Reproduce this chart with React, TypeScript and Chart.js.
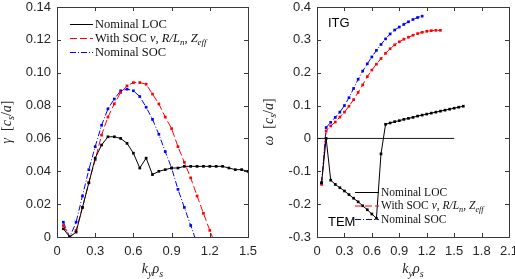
import React, { useEffect, useRef } from 'react';
import { Chart, registerables } from 'chart.js';
Chart.register(...registerables);

// ---------- Left panel: growth rate gamma ----------
const kyLOC = [0.05, 0.1, 0.15, 0.2, 0.25, 0.3, 0.35, 0.4, 0.45, 0.5, 0.55, 0.6, 0.65, 0.7, 0.75, 0.8, 0.85, 0.9, 0.95, 1.0, 1.05, 1.1, 1.15, 1.2, 1.25, 1.3, 1.35, 1.4, 1.45, 1.5];
const gammaLOC = [0.005, 0.0, 0.003, 0.018, 0.033, 0.048, 0.056, 0.061, 0.061, 0.060, 0.057, 0.051, 0.042, 0.048, 0.038, 0.040, 0.041, 0.042, 0.042, 0.043, 0.043, 0.043, 0.043, 0.043, 0.043, 0.043, 0.042, 0.041, 0.041, 0.040];

const kyWithSOC = [0.05, 0.1, 0.15, 0.2, 0.25, 0.3, 0.35, 0.4, 0.45, 0.5, 0.55, 0.6, 0.65, 0.7, 0.75, 0.8, 0.85, 0.9, 0.95, 1.0, 1.05, 1.1, 1.15, 1.2, 1.25];
const gammaWithSOC = [0.007, 0.0, 0.004, 0.018, 0.033, 0.047, 0.062, 0.073, 0.081, 0.088, 0.092, 0.094, 0.094, 0.093, 0.087, 0.081, 0.073, 0.066, 0.055, 0.0455, 0.036, 0.025, 0.0144, 0.004, -0.006];

const kyNomSOC = [0.05, 0.1, 0.15, 0.2, 0.25, 0.3, 0.35, 0.4, 0.45, 0.5, 0.55, 0.6, 0.65, 0.7, 0.75, 0.8, 0.85, 0.9, 0.95, 1.0, 1.05, 1.1];
const gammaNomSOC = [0.009, 0.0, 0.009, 0.025, 0.041, 0.055, 0.068, 0.078, 0.084, 0.089, 0.090, 0.089, 0.0855, 0.079, 0.0716, 0.0625, 0.052, 0.042, 0.029, 0.018, 0.007, -0.004];

// ---------- Right panel: real frequency omega ----------
const kyOmegaLOC = [0.05, 0.1, 0.15, 0.2, 0.25, 0.3, 0.35, 0.4, 0.45, 0.5, 0.55, 0.6, 0.65, 0.7, 0.75, 0.8, 0.85, 0.9, 0.95, 1.0, 1.05, 1.1, 1.15, 1.2, 1.25, 1.3, 1.35, 1.4, 1.45, 1.5, 1.55, 1.6];
const omegaLOC = [-0.135, 0.0, -0.127, -0.14, -0.15, -0.16, -0.171, -0.182, -0.193, -0.205, -0.217, -0.23, -0.243, -0.047, 0.043, 0.047, 0.051, 0.054, 0.058, 0.061, 0.064, 0.068, 0.071, 0.074, 0.077, 0.080, 0.083, 0.086, 0.089, 0.092, 0.095, 0.098];

const kyOmegaWithSOC = [0.05, 0.1, 0.15, 0.2, 0.25, 0.3, 0.35, 0.4, 0.45, 0.5, 0.55, 0.6, 0.65, 0.7, 0.75, 0.8, 0.85, 0.9, 0.95, 1.0, 1.05, 1.1, 1.15, 1.2, 1.25, 1.3, 1.35];
const omegaWithSOC = [-0.14, 0.023, 0.038, 0.05, 0.065, 0.08, 0.098, 0.118, 0.14, 0.163, 0.188, 0.208, 0.226, 0.243, 0.259, 0.273, 0.285, 0.294, 0.302, 0.308, 0.314, 0.319, 0.323, 0.326, 0.328, 0.329, 0.329];

const kyOmegaNomSOC = [0.05, 0.1, 0.15, 0.2, 0.25, 0.3, 0.35, 0.4, 0.45, 0.5, 0.55, 0.6, 0.65, 0.7, 0.75, 0.8, 0.85, 0.9, 0.95, 1.0, 1.05, 1.1, 1.15];
const omegaNomSOC = [-0.135, 0.033, 0.049, 0.064, 0.08, 0.100, 0.124, 0.152, 0.180, 0.205, 0.227, 0.248, 0.268, 0.286, 0.303, 0.318, 0.330, 0.339, 0.347, 0.355, 0.362, 0.368, 0.372];

const zeroLineX = [0, 1.5];
const zeroLineY = [0, 0];

// ---------- Labels ----------
type Seg = { t: string; i?: boolean; sub?: boolean };
const legendLOC: Seg[] = [{ t: 'Nominal LOC' }];
const legendWithSOC: Seg[] = [
  { t: 'With SOC ' }, { t: 'ν', i: true }, { t: ', ' }, { t: 'R/L', i: true }, { t: 'n', i: true, sub: true },
  { t: ', ' }, { t: 'Z', i: true }, { t: 'eff', i: true, sub: true },
];
const legendNomSOC: Seg[] = [{ t: 'Nominal SOC' }];
const xTitle: Seg[] = [{ t: 'k', i: true }, { t: 'y', i: true, sub: true }, { t: 'ρ', i: true }, { t: 's', i: true, sub: true }];
const yTitleGamma: Seg[] = [{ t: 'γ', i: true }, { t: '  [' }, { t: 'c', i: true }, { t: 's', i: true, sub: true }, { t: '/' }, { t: 'a', i: true }, { t: ']' }];
const yTitleOmega: Seg[] = [{ t: 'ω', i: true }, { t: '  [' }, { t: 'c', i: true }, { t: 's', i: true, sub: true }, { t: '/' }, { t: 'a', i: true }, { t: ']' }];
const labelITG = 'ITG';
const labelTEM = 'TEM';

const COL_LOC = '#000000';
const COL_WITH = '#ff0000';
const COL_NOM = '#0000ff';
const DASH_WITH = [7, 3];
const DASH_NOM = [6, 2, 1, 2];

const SERIF = '"Liberation Serif", "Times New Roman", serif';
const SANS = '"Liberation Sans", Arial, sans-serif';

function pts(xs: number[], ys: number[]) {
  return xs.map((x, i) => ({ x, y: ys[i] }));
}

function segFont(s: Seg, size: number) {
  const sz = s.sub ? size * 0.72 : size;
  return `${s.i ? 'italic ' : ''}${sz}px ${SERIF}`;
}

function richWidth(ctx: CanvasRenderingContext2D, segs: Seg[], size: number) {
  let w = 0;
  for (const s of segs) {
    ctx.font = segFont(s, size);
    w += ctx.measureText(s.t).width;
  }
  return w;
}

function drawRich(ctx: CanvasRenderingContext2D, segs: Seg[], x: number, y: number, size: number, align: 'left' | 'center') {
  let cx = align === 'center' ? x - richWidth(ctx, segs, size) / 2 : x;
  ctx.textAlign = 'left';
  ctx.textBaseline = 'alphabetic';
  for (const s of segs) {
    ctx.font = segFont(s, size);
    ctx.fillText(s.t, cx, y + (s.sub ? size * 0.25 : 0));
    cx += ctx.measureText(s.t).width;
  }
}

type LegendItem = { segs: Seg[]; color: string; dash: number[] };

function makeDecor(cfg: {
  yTitle: Seg[];
  yTitleX: number;
  legend: LegendItem[];
  legX: number; legY: number; legStep: number; legLen: number; legFont: number;
  texts: { t: string; x: number; y: number }[];
}) {
  return {
    id: 'decor',
    beforeDatasetsDraw(chart: any) {
      const { ctx, chartArea: a } = chart;
      const xs = chart.scales.x, ys = chart.scales.y;
      ctx.save();
      ctx.strokeStyle = '#3a3a3a';
      ctx.lineWidth = 1;
      ctx.beginPath();
      const L = 4;
      for (const t of xs.ticks) {
        const px = Math.round(xs.getPixelForValue(t.value)) + 0.5;
        ctx.moveTo(px, a.bottom); ctx.lineTo(px, a.bottom - L);
        ctx.moveTo(px, a.top); ctx.lineTo(px, a.top + L);
      }
      for (const t of ys.ticks) {
        const py = Math.round(ys.getPixelForValue(t.value)) + 0.5;
        ctx.moveTo(a.left, py); ctx.lineTo(a.left + L, py);
        ctx.moveTo(a.right, py); ctx.lineTo(a.right - L, py);
      }
      ctx.stroke();
      ctx.strokeRect(Math.round(a.left) + 0.5, Math.round(a.top) + 0.5, Math.round(a.right - a.left), Math.round(a.bottom - a.top));
      ctx.restore();
    },
    afterDraw(chart: any) {
      const { ctx, chartArea: a } = chart;
      ctx.save();
      ctx.fillStyle = '#222';
      // x title
      drawRich(ctx, xTitle, (a.left + a.right) / 2, 273, 14, 'center');
      // y title rotated
      ctx.save();
      ctx.translate(cfg.yTitleX, (a.top + a.bottom) / 2);
      ctx.rotate(-Math.PI / 2);
      drawRich(ctx, cfg.yTitle, 0, 4.5, 14, 'center');
      ctx.restore();
      // legend
      cfg.legend.forEach((it, k) => {
        const y = cfg.legY + k * cfg.legStep;
        ctx.save();
        ctx.strokeStyle = it.color;
        ctx.lineWidth = 1;
        ctx.setLineDash(it.dash);
        ctx.beginPath();
        ctx.moveTo(cfg.legX, y + 0.5);
        ctx.lineTo(cfg.legX + cfg.legLen, y + 0.5);
        ctx.stroke();
        ctx.restore();
        ctx.fillStyle = '#111';
        drawRich(ctx, it.segs, cfg.legX + cfg.legLen + 2, y + cfg.legFont * 0.33, cfg.legFont, 'left');
      });
      // annotations
      ctx.fillStyle = '#000';
      ctx.font = `13px ${SANS}`;
      ctx.textAlign = 'left';
      ctx.textBaseline = 'middle';
      for (const t of cfg.texts) ctx.fillText(t.t, t.x, t.y);
      ctx.restore();
    },
  };
}

function lineDs(data: { x: number; y: number }[], color: string, dash: number[], marker = true) {
  return {
    data,
    borderColor: color,
    backgroundColor: color,
    borderWidth: 1,
    borderDash: dash,
    pointStyle: 'rect',
    pointRadius: marker ? 1.9 : 0,
    pointBorderWidth: 0,
    pointBackgroundColor: color,
    tension: 0,
    fill: false,
  };
}

const tickFont = { family: SANS, size: 13 };

function axisOpts(min: number, max: number, step: number, isX: boolean, size: number) {
  return {
    type: 'linear',
    min, max,
    ticks: { stepSize: step, font: tickFont, color: '#262626', padding: isX ? 7 : 6, maxRotation: 0, autoSkip: false },
    grid: { display: false, drawTicks: false },
    border: { display: false },
    afterFit: (s: any) => {
      if (isX) { s.height = size; s.paddingLeft = 0; s.paddingRight = 0; }
      else { s.width = size; s.paddingTop = 0; s.paddingBottom = 0; }
    },
  };
}

export default function App() {
  const leftRef = useRef<HTMLCanvasElement>(null);
  const rightRef = useRef<HTMLCanvasElement>(null);

  useEffect(() => {
    const legendItems: LegendItem[] = [
      { segs: legendLOC, color: COL_LOC, dash: [] },
      { segs: legendWithSOC, color: COL_WITH, dash: DASH_WITH },
      { segs: legendNomSOC, color: COL_NOM, dash: DASH_NOM },
    ];
    const left = new Chart(leftRef.current as HTMLCanvasElement, {
      type: 'line',
      data: {
        datasets: [
          lineDs(pts(kyLOC, gammaLOC), COL_LOC, []),
          lineDs(pts(kyWithSOC, gammaWithSOC), COL_WITH, DASH_WITH),
          lineDs(pts(kyNomSOC, gammaNomSOC), COL_NOM, DASH_NOM),
        ] as any,
      },
      options: {
        responsive: false,
        animation: false,
        devicePixelRatio: 1,
        layout: { padding: { left: 0, top: 7, right: 267, bottom: 0 } },
        plugins: { legend: { display: false }, tooltip: { enabled: false } },
        scales: {
          x: axisOpts(0, 1.5, 0.3, true, 42) as any,
          y: axisOpts(0, 0.14, 0.02, false, 57) as any,
        },
      },
      plugins: [makeDecor({
        yTitle: yTitleGamma, yTitleX: 6,
        legend: legendItems, legX: 70, legY: 24, legStep: 14, legLen: 23, legFont: 12.5,
        texts: [],
      })],
    });
    const right = new Chart(rightRef.current as HTMLCanvasElement, {
      type: 'line',
      data: {
        datasets: [
          lineDs(pts(zeroLineX, zeroLineY), '#1a1a1a', [], false),
          lineDs(pts(kyOmegaLOC, omegaLOC), COL_LOC, []),
          lineDs(pts(kyOmegaWithSOC, omegaWithSOC), COL_WITH, DASH_WITH),
          lineDs(pts(kyOmegaNomSOC, omegaNomSOC), COL_NOM, DASH_NOM),
        ] as any,
      },
      options: {
        responsive: false,
        animation: false,
        devicePixelRatio: 1,
        layout: { padding: { left: 0, top: 7, right: 6, bottom: 0 } },
        plugins: { legend: { display: false }, tooltip: { enabled: false } },
        scales: {
          x: axisOpts(0, 2.1, 0.3, true, 42) as any,
          y: axisOpts(-0.3, 0.4, 0.1, false, 317) as any,
        },
      },
      plugins: [makeDecor({
        yTitle: yTitleOmega, yTitleX: 268,
        legend: legendItems, legX: 355, legY: 192, legStep: 13.5, legLen: 24, legFont: 11.5,
        texts: [{ t: labelITG, x: 328, y: 23.5 }, { t: labelTEM, x: 328, y: 222 }],
      })],
    });
    return () => { left.destroy(); right.destroy(); };
  }, []);

  const cs: React.CSSProperties = { position: 'absolute', left: 0, top: 0 };
  return (
    <div style={{ position: 'absolute', left: 0, top: 0, width: 515, height: 279, background: '#fff' }}>
      <canvas ref={leftRef} width={515} height={279} style={cs} />
      <canvas ref={rightRef} width={515} height={279} style={cs} />
    </div>
  );
}
